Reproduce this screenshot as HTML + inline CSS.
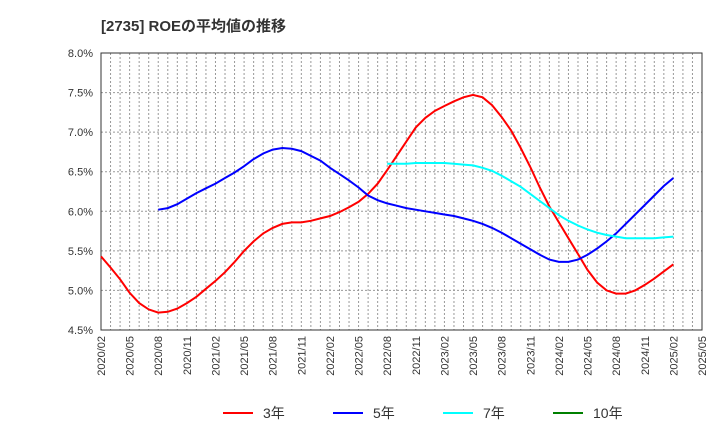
<!DOCTYPE html>
<html><head><meta charset="utf-8"><style>
body{margin:0;background:#fff;font-family:"Liberation Sans","Noto Sans CJK JP",sans-serif}
</style></head><body>
<svg id="c" width="720" height="440" xmlns="http://www.w3.org/2000/svg">
<text x="101" y="31" font-size="15" font-weight="bold" fill="#333" font-family="Liberation Sans, Noto Sans CJK JP, sans-serif">[2735]  ROEの平均値の推移</text>
<g id="grid"></g><g id="axes"></g><g id="series"></g><g id="legend"></g>
</svg>
<script>
const startYear=2020, startMonth=2, nMonths=64;
const yTicks=[4.5,5.0,5.5,6.0,6.5,7.0,7.5,8.0];
const roe3=[5.43,5.29,5.14,4.97,4.84,4.76,4.72,4.73,4.77,4.84,4.92,5.02,5.12,5.23,5.36,5.50,5.62,5.72,5.79,5.84,5.86,5.86,5.88,5.91,5.94,5.99,6.05,6.12,6.22,6.35,6.52,6.70,6.88,7.06,7.18,7.27,7.33,7.39,7.44,7.47,7.44,7.34,7.19,7.02,6.80,6.56,6.30,6.06,5.86,5.66,5.46,5.26,5.10,5.00,4.96,4.96,5.00,5.07,5.15,5.24,5.33];
const roe5=[null,null,null,null,null,null,6.02,6.04,6.09,6.16,6.23,6.29,6.35,6.42,6.49,6.57,6.66,6.73,6.78,6.80,6.79,6.76,6.70,6.64,6.55,6.47,6.39,6.30,6.20,6.14,6.10,6.07,6.04,6.02,6.00,5.98,5.96,5.94,5.91,5.88,5.84,5.79,5.73,5.66,5.59,5.52,5.45,5.39,5.36,5.36,5.39,5.45,5.53,5.62,5.72,5.84,5.96,6.08,6.20,6.32,6.42];
const roe7=[null,null,null,null,null,null,null,null,null,null,null,null,null,null,null,null,null,null,null,null,null,null,null,null,null,null,null,null,null,null,6.60,6.60,6.60,6.61,6.61,6.61,6.61,6.60,6.59,6.58,6.55,6.51,6.45,6.38,6.31,6.22,6.13,6.04,5.95,5.88,5.82,5.77,5.73,5.70,5.68,5.66,5.66,5.66,5.66,5.67,5.68];
const roe10=[];
const L=101,R=702,T=53,B=330,NS="http://www.w3.org/2000/svg";
const xs=i=>L+(R-L)*i/(nMonths-1), ys=v=>B-(v-4.5)/3.5*(B-T);
function mk(tag,attrs,parent){const e=document.createElementNS(NS,tag);for(const k in attrs)e.setAttribute(k,attrs[k]);parent.appendChild(e);return e;}
const grid=document.getElementById('grid'),axes=document.getElementById('axes'),ser=document.getElementById('series'),leg=document.getElementById('legend');
for(let i=1;i<nMonths-1;i++){const g=mk('line',{x1:xs(i),x2:xs(i),y1:T,y2:B,stroke:'#999','stroke-dasharray':'2,2'},grid);

}
yTicks.forEach(v=>{if(v>4.5&&v<8){const g=mk('line',{x1:L,x2:R,y1:ys(v),y2:ys(v),stroke:'#999','stroke-dasharray':'2,2'},grid);

}
const t=mk('text',{x:93,y:ys(v)+4,'text-anchor':'end','font-size':11,fill:'#333'},axes);t.textContent=v.toFixed(1)+'%';

});
for(let i=0;i<nMonths;i+=3){const m=(startMonth-1+i)%12+1,y=startYear+Math.floor((startMonth-1+i)/12);
const t=mk('text',{x:0,y:0,'text-anchor':'end','font-size':11,fill:'#333',transform:`translate(${xs(i)+4},336) rotate(-90)`},axes);
t.textContent=y+'/'+String(m).padStart(2,'0');

}
const fr=mk('rect',{x:L,y:T,width:R-L,height:B-T,fill:'none',stroke:'#333','stroke-width':1},axes);


function line(arr,color,name){let d='';arr.forEach((v,i)=>{if(v==null)return;d+=(d?'L':'M')+xs(i).toFixed(1)+','+ys(v).toFixed(1);});
if(!d)return;const p=mk('path',{d:d,fill:'none',stroke:color,'stroke-width':2},ser);

}
line(roe3,'#ff0000','series-3y');line(roe5,'#0000ff','series-5y');line(roe7,'#00ffff','series-7y');line(roe10,'#008000','series-10y');
[['3年','#ff0000',223],['5年','#0000ff',333],['7年','#00ffff',443],['10年','#008000',553]].forEach(([lab,c,x])=>{
const g=mk('g',{},leg);


mk('line',{x1:x,x2:x+30,y1:413,y2:413,stroke:c,'stroke-width':2},g);
const t=mk('text',{x:x+40,y:418,'font-size':14,fill:'#333'},g);t.textContent=lab;});
</script>
</body></html>
